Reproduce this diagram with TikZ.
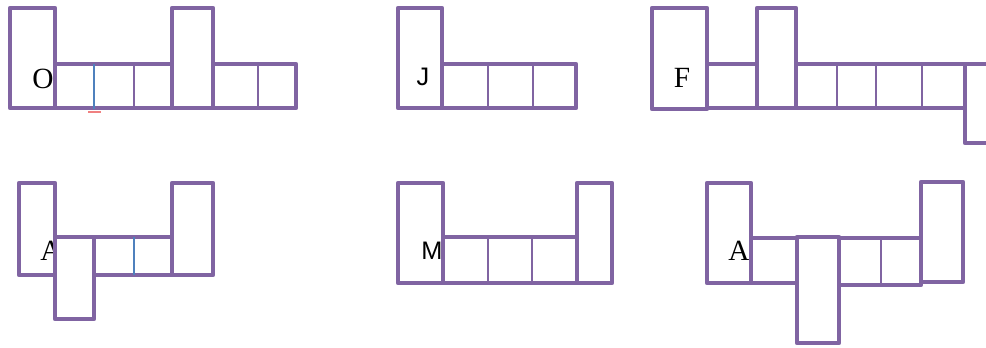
\documentclass[tikz,border=0pt]{standalone}
\usepackage{fontspec}
\setmainfont{Liberation Serif}
\setsansfont{Liberation Sans}
\usepackage{xcolor}
\definecolor{netpurple}{HTML}{8064A2}
\definecolor{netblue}{HTML}{4F81BD}
\definecolor{netred}{HTML}{F08080}

\begin{document}
\begin{tikzpicture}[
        x=0.75pt, y=-0.75pt,
        face/.style={draw=netpurple, line width=3.4pt, line join=round, fill=white},
        fold/.style={draw=netpurple, line width=1.5pt},
        crease/.style={draw=netblue, line width=1.1pt},
        letter/.style={anchor=base, inner sep=0pt, font=\fontsize{22}{22}\selectfont},
        sletter/.style={anchor=base, inner sep=0pt, font=\sffamily\fontsize{19}{19}\selectfont}
    ]
    \useasboundingbox (0,0) rectangle (986,347);

    % net O
    \draw[face] (10,8) rectangle (55,108);
    \node[letter] (lblO) at (43,88) {O};
    \draw[face] (55,64) rectangle (172,108);
    \draw[crease] (94,64) -- (94,109);
    \draw[fold] (134,64) -- (134,108);
    \draw[face] (172,8) rectangle (213,108);
    \draw[face] (213,64) rectangle (296,108);
    \draw[fold] (258,64) -- (258,108);
    \draw[netred, line width=1pt] (88,112) -- (101,112);

    % net J
    \draw[face] (398,8) rectangle (442,108);
    \node[sletter] (lblJ) at (423,85) {J};
    \draw[face] (442,64) rectangle (576,108);
    \draw[fold] (488,64) -- (488,108);
    \draw[fold] (533,64) -- (533,108);

    % net F
    \draw[face] (652,8) rectangle (707,109);
    \node[letter] (lblF) at (682,87) {F};
    \draw[face] (707,64) rectangle (757,108);
    \draw[face] (757,8) rectangle (796,108);
    \draw[face] (796,64) rectangle (965,108);
    \draw[fold] (837,64) -- (837,108);
    \draw[fold] (876,64) -- (876,108);
    \draw[fold] (922,64) -- (922,108);
    \draw[draw=netpurple, line width=3.4pt, line join=round] (986,64) -- (965,64) -- (965,143) -- (986,143);

    % net A (left)
    \draw[face] (19,183) rectangle (55,275);
    \node[letter] (lblA) at (51,260) {A};
    \draw[face] (55,237) rectangle (94,319);
    \draw[face] (94,237) rectangle (172,275);
    \draw[crease] (134,237) -- (134,275);
    \draw[face] (172,183) rectangle (213,275);

    % net M
    \draw[face] (398,183) rectangle (443,283);
    \node[sletter] (lblM) at (432,259) {M};
    \draw[face] (443,237) rectangle (577,283);
    \draw[fold] (488,237) -- (488,283);
    \draw[fold] (532,237) -- (532,283);
    \draw[face] (577,183) rectangle (612,283);

    % net A (right)
    \draw[face] (707,183) rectangle (751,283);
    \node[letter] (lblAA) at (739,260) {A};
    \draw[face] (751,238) rectangle (797,283);
    \draw[face] (839,238) rectangle (921,285);
    \draw[fold] (881,238) -- (881,285);
    \draw[face] (921,182) rectangle (963,282);
    \draw[face] (797,237) rectangle (839,343);

\end{tikzpicture}
\end{document}
